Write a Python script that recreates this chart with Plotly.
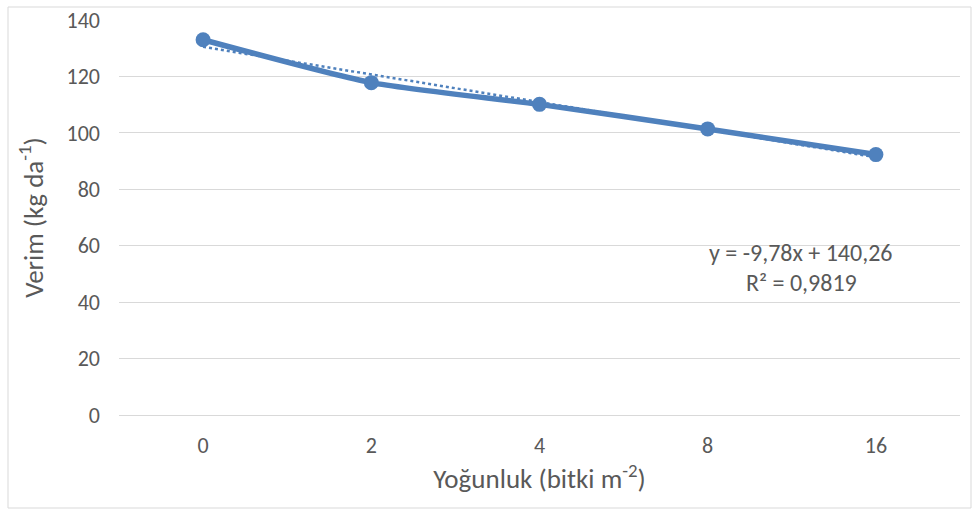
import plotly.graph_objects as go

# Plant density categories and measured yield
density = ["0", "2", "4", "8", "16"]
yield_kg = [133.0, 117.8, 110.1, 101.4, 92.3]

# Linear trend y = a*x + b over category index x = 1..n
trend_slope = -9.78
trend_intercept = 140.26
trend_r2 = 0.9819
trend_y = [trend_slope * (i + 1) + trend_intercept for i in range(len(density))]

y_ticks = [0, 20, 40, 60, 80, 100, 120, 140]

BLUE = "#4F81BD"
TEXT = "#595959"
GRID = "#D9D9D9"
FONT = "Carlito, Lato, Calibri, sans-serif"
TICK_SIZE = 22

W, H = 979, 511
L, R, T, B = 119, 19, 20, 96
pw, ph = W - L - R, H - T - B

fig = go.Figure()

fig.add_trace(go.Scatter(
    x=density, y=trend_y, mode="lines",
    line=dict(color=BLUE, width=2.5, dash="dot"),
    hoverinfo="skip", showlegend=False,
))

fig.add_trace(go.Scatter(
    x=density, y=yield_kg, mode="lines+markers",
    line=dict(color=BLUE, width=5.5, shape="spline", smoothing=0.6),
    marker=dict(color=BLUE, size=15),
    showlegend=False,
))

fmt = lambda v: f"{v:.2f}".replace(".", ",")
eq_lines = [
    (f"y = {fmt(trend_slope)}x + {fmt(trend_intercept)}", 252),
    (f"R² = {f'{trend_r2:.4f}'.replace('.', ',')}", 282),
]
for txt, py in eq_lines:
    fig.add_annotation(
        x=(801 - L) / pw, y=(T + ph - py) / ph, xref="paper", yref="paper",
        xanchor="center", yanchor="middle",
        text=txt, showarrow=False,
        font=dict(family=FONT, size=24, color=TEXT),
    )

# Outer chart border
fig.add_shape(
    type="rect", xref="paper", yref="paper",
    x0=(8 - L) / pw, x1=(971 - L) / pw,
    y0=(T + ph - 508) / ph, y1=(T + ph - 7) / ph,
    line=dict(color=GRID, width=1), layer="below",
)

fig.update_layout(
    width=W, height=H,
    margin=dict(l=L, r=R, t=T, b=B),
    paper_bgcolor="white", plot_bgcolor="white",
    font=dict(family=FONT, size=TICK_SIZE, color=TEXT),
    xaxis=dict(
        type="category", range=[-0.5, 4.5], showgrid=False, zeroline=False,
        showline=False, ticks="", ticklabelstandoff=15, automargin=False,
        title=dict(text="Yoğunluk (bitki m<sup>-2</sup>)", standoff=3,
                   font=dict(size=27, color=TEXT)),
    ),
    yaxis=dict(
        range=[0, 140], tickvals=y_ticks, showgrid=True, gridcolor=GRID,
        gridwidth=1.3, zeroline=True, zerolinecolor=GRID, zerolinewidth=1.3,
        showline=False, ticks="", ticklabelstandoff=18, automargin=False,
        title=dict(text="Verim (kg da<sup>-1</sup>)", standoff=15,
                   font=dict(size=27, color=TEXT)),
    ),
)

fig.write_html("out.html")
